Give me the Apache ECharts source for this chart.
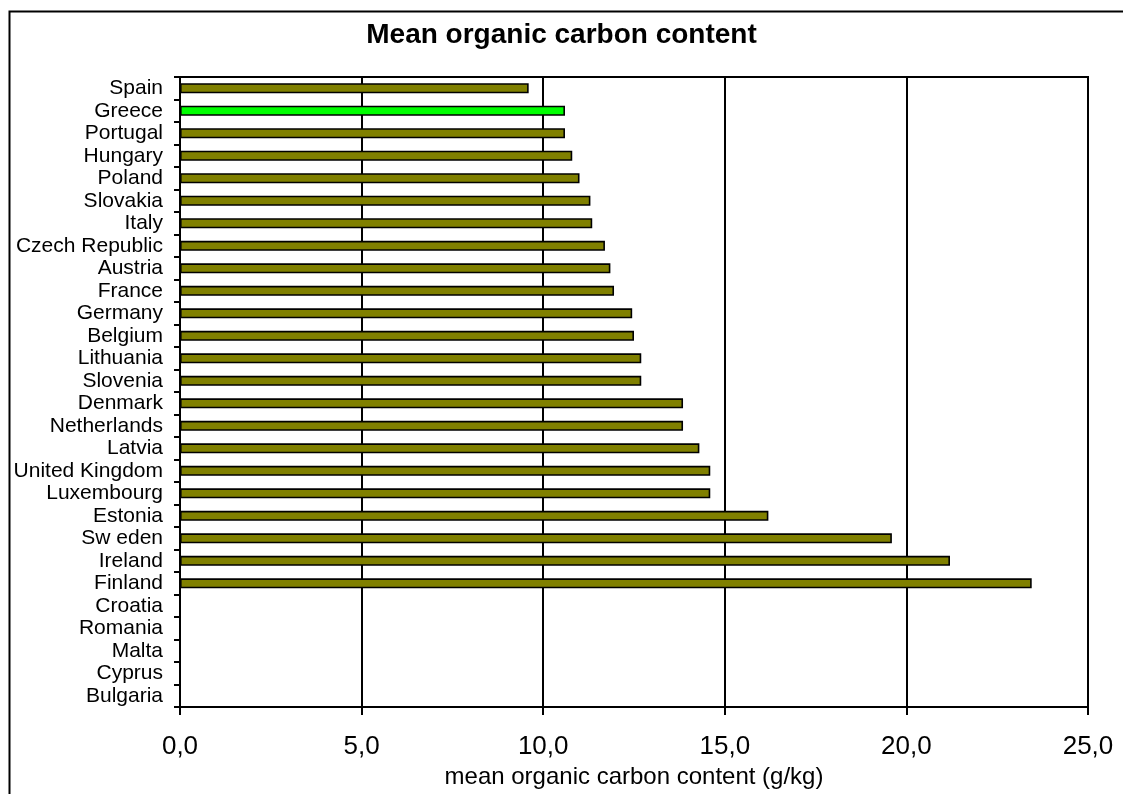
<!DOCTYPE html>
<html>
<head>
<meta charset="utf-8">
<title>Mean organic carbon content</title>
<script src="https://cdn.jsdelivr.net/npm/echarts@6/dist/echarts.min.js"></script>
<style>
    html, body { margin: 0; padding: 0; background: #fff; }
    #main { width: 1123px; height: 794px; }
</style>
</head>
<body>
<div id="main"></div>
<script>
// countries, top to bottom
var countries = ['Spain', 'Greece', 'Portugal', 'Hungary', 'Poland', 'Slovakia', 'Italy',
    'Czech Republic', 'Austria', 'France', 'Germany', 'Belgium', 'Lithuania', 'Slovenia',
    'Denmark', 'Netherlands', 'Latvia', 'United Kingdom', 'Luxembourg', 'Estonia',
    'Sw eden', 'Ireland', 'Finland', 'Croatia', 'Romania', 'Malta', 'Cyprus', 'Bulgaria'];
// mean organic carbon content (g/kg), no data for the last five
var carbon = [9.6, 10.6, 10.6, 10.8, 11.0, 11.3, 11.35,
    11.7, 11.85, 11.95, 12.45, 12.5, 12.7, 12.7,
    13.85, 13.85, 14.3, 14.6, 14.6, 16.2,
    19.6, 21.2, 23.45, null, null, null, null, null];
var highlighted = ['Greece'];
var xTicks = [0, 5, 10, 15, 20, 25];

var font = 'Arial, "Liberation Sans", sans-serif';

var myChart = echarts.init(document.getElementById('main'));

// data items, Greece drawn in green
var barData = [];
for (var i = 0; i < countries.length; i++) {
    var item = { value: carbon[i] };
    if (highlighted.indexOf(countries[i]) >= 0) {
        item.itemStyle = { color: '#00ff00' };
    }
    barData.push(item);
}

var option = {
    backgroundColor: '#ffffff',
    animation: false,
    title: {
        text: 'Mean organic carbon content',
        left: 'center',
        top: 21,
        padding: 0,
        textStyle: { fontFamily: font, fontSize: 28, fontWeight: 'bold', color: '#000' }
    },
    // outer chart frame (runs off the right and bottom of the page)
    graphic: [{
        type: 'rect',
        left: 7, top: 9,
        shape: { width: 1200, height: 900 },
        style: { fill: 'none', stroke: '#000', lineWidth: 2 },
        silent: true
    }],
    grid: {
        left: 180,
        right: 35,
        top: 77,
        bottom: 83,
        show: true,
        borderColor: '#000',
        borderWidth: 2
    },
    xAxis: {
        type: 'value',
        min: xTicks[0],
        max: xTicks[xTicks.length - 1],
        interval: 5,
        name: 'mean organic carbon content (g/kg)',
        nameLocation: 'middle',
        nameGap: 57,
        nameTextStyle: { fontFamily: font, fontSize: 24, color: '#000' },
        axisLine: { show: true, lineStyle: { color: '#000', width: 2 } },
        axisTick: { show: true, length: 8, lineStyle: { color: '#000', width: 2 } },
        axisLabel: {
            fontFamily: font, fontSize: 26, color: '#000', margin: 27,
            formatter: function (v) { return v.toFixed(1).replace('.', ','); }
        },
        splitLine: { show: true, lineStyle: { color: '#000', width: 2 } }
    },
    yAxis: {
        type: 'category',
        data: countries,
        inverse: true,
        axisLine: { show: true, lineStyle: { color: '#000', width: 2 } },
        axisTick: { show: true, length: 6, lineStyle: { color: '#000', width: 2 } },
        axisLabel: { fontFamily: font, fontSize: 21, color: '#000', margin: 17, interval: 0 },
        splitLine: { show: false }
    },
    series: [{
        type: 'bar',
        data: barData,
        barWidth: 10,
        itemStyle: { color: '#808000', borderColor: '#000', borderWidth: 1.6 }
    }]
};

myChart.setOption(option);
</script>
</body>
</html>
